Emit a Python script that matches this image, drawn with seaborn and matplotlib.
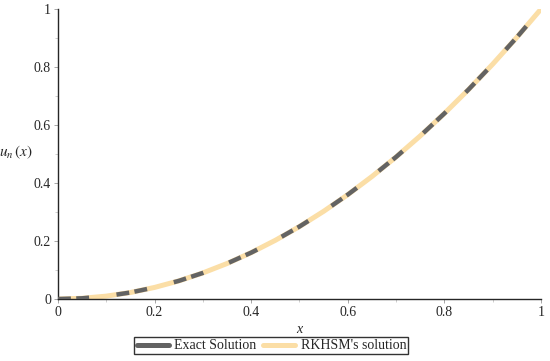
import numpy as np
import pandas as pd
import seaborn as sns
import matplotlib.pyplot as plt

# values
x_vals = [0.0, 0.05, 0.1, 0.15, 0.2, 0.25, 0.3, 0.35, 0.4, 0.45, 0.5,
          0.55, 0.6, 0.65, 0.7, 0.75, 0.8, 0.85, 0.9, 0.95, 1.0]
u_exact = [0.0, 0.0025, 0.01, 0.0225, 0.04, 0.0625, 0.09, 0.1225, 0.16, 0.2025, 0.25,
           0.3025, 0.36, 0.4225, 0.49, 0.5625, 0.64, 0.7225, 0.81, 0.9025, 1.0]
u_rkhsm = [0.0, 0.0025, 0.01, 0.0225, 0.04, 0.0625, 0.09, 0.1225, 0.16, 0.2025, 0.25,
           0.3025, 0.36, 0.4225, 0.49, 0.5625, 0.64, 0.7225, 0.81, 0.9025, 1.0]
x_ticks = [0, 0.2, 0.4, 0.6, 0.8, 1]
x_tick_labels = ["0", "0.2", "0.4", "0.6", "0.8", "1"]
y_ticks = [0, 0.2, 0.4, 0.6, 0.8, 1]
y_tick_labels = ["0", "0.2", "0.4", "0.6", "0.8", "1"]

df = pd.DataFrame({"x": x_vals, "exact": u_exact, "rkhsm": u_rkhsm})

sns.set_style("ticks")
plt.rcParams["font.family"] = ["Liberation Serif", "DejaVu Serif"]
plt.rcParams["mathtext.fontset"] = "stix"

fig = plt.figure(figsize=(5.5, 3.61), dpi=100)
ax = fig.add_axes([0.1055, 0.1717, 0.878, 0.803])

gray = "#636363"
wheat = "#FBDEA6"

sns.lineplot(data=df, x="x", y="rkhsm", ax=ax, color=wheat, linewidth=3.6,
             label="RKHSM's solution", zorder=2)
sns.lineplot(data=df, x="x", y="exact", ax=ax, color=gray, linewidth=3.2,
             label="Exact Solution", zorder=3)
# maple style dash: two dashes, short gap, then long gap
ax.lines[1].set_dashes([2.9, 1.2, 2.9, 6.2])
ax.lines[1].set_dash_capstyle("butt")

ax.set_xlim(0, 1)
ax.set_ylim(0, 1)
ax.set_xticks(x_ticks)
ax.set_xticklabels(x_tick_labels, fontsize=10)
ax.set_yticks(y_ticks)
ax.set_yticklabels(y_tick_labels, fontsize=10)
ax.set_xticks(np.arange(0.1, 1.0, 0.2), minor=True)
ax.set_yticks(np.arange(0.1, 1.0, 0.2), minor=True)
ax.tick_params(which="major", direction="out", length=3, width=0.6, color="#999999", pad=2)
ax.tick_params(which="minor", direction="out", length=2, width=0.5, color="#bbbbbb")

sns.despine(ax=ax)
ax.spines["left"].set_linewidth(1.0)
ax.spines["bottom"].set_linewidth(1.0)

ax.set_xlabel("x", fontstyle="italic", fontsize=10, labelpad=3)
ax.set_ylabel(r"$u_n\,(x)$", rotation=0, fontsize=11)
ax.yaxis.set_label_coords(-0.088, 0.475)

handles, labels = ax.get_legend_handles_labels()
h = [handles[1], handles[0]]
l = [labels[1], labels[0]]
leg = ax.legend(h, l, loc="upper center", bbox_to_anchor=(0.442, -0.132), ncol=2,
                frameon=True, fancybox=False, edgecolor="black", fontsize=10,
                handlelength=2.3, borderpad=0.15, columnspacing=0.5, handletextpad=0.4,
                borderaxespad=0)
leg.get_frame().set_linewidth(1.0)
for line in leg.get_lines():
    line.set_linestyle("-")
    line.set_linewidth(3.6)

fig.savefig("out.png", dpi=100)
